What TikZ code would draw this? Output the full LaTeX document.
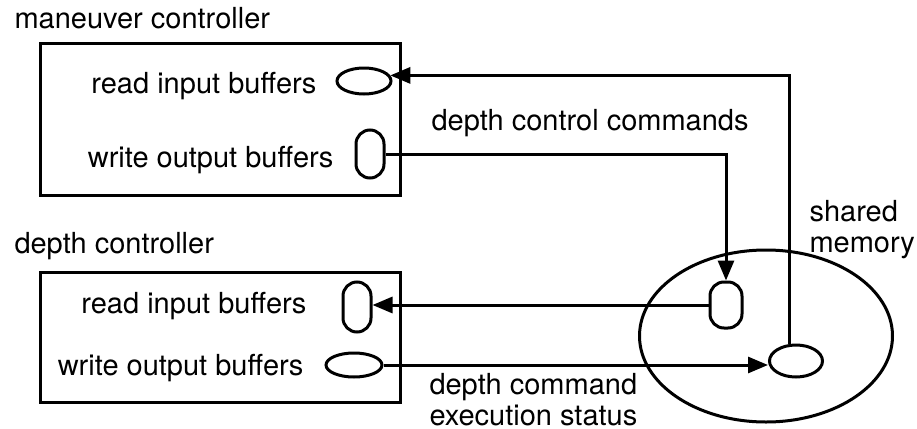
\documentclass[tikz,border=0pt]{standalone}
\usepackage{fontspec}
\setmainfont{TeX Gyre Heros}
\usetikzlibrary{arrows.meta,shapes.geometric}
\tikzset{
  lbl/.style={inner sep=0pt,font=\fontsize{14.5}{15.5}\selectfont},
  buf/.style={draw,ellipse,inner sep=0pt},
  capsule/.style={draw,rectangle,rounded corners=7pt,inner sep=0pt,minimum width=14pt,minimum height=24pt},
  flow/.style={-{Triangle[length=10pt,width=8pt]}}
}
\begin{document}
\begin{tikzpicture}[x=0.5pt,y=-0.5pt,line width=1.5pt]
  \useasboundingbox (0,0) rectangle (917,429);
  % maneuver controller (top box)
  \node[lbl,anchor=base west] (mantitle) at (13,28) {maneuver controller};
  \draw (40,43) rectangle (400,195);
  \node[buf,minimum width=27pt,minimum height=13pt] (mrd) at (364,81) {};
  \node[lbl,anchor=base east] (mrdtext) at (318,93) {read input buffers};
  \node[capsule] (mwr) at (370,154) {};
  \node[lbl,anchor=base east] (mwrtext) at (335,167) {write output buffers};
  % depth controller (bottom box)
  \node[lbl,anchor=base west] (deptitle) at (13,253) {depth controller};
  \draw (40,272) rectangle (400,402);
  \node[capsule,minimum height=25pt] (drd) at (357,307) {};
  \node[lbl,anchor=base east] (drdtext) at (308,313) {read input buffers};
  \node[buf,minimum width=28pt,minimum height=12pt] (dwr) at (354,365) {};
  \node[lbl,anchor=base east] (dwrtext) at (305,375) {write output buffers};
  % shared memory with its two buffers
  \node[buf,minimum width=126.5pt,minimum height=86pt] (shm) at (766,336) {};
  \node[lbl,anchor=north west,align=left] (shmtext) at (808,199) {shared\\memory};
  \node[capsule,minimum width=16pt,minimum height=23pt] (sr) at (726,305) {};
  \node[buf,minimum width=26.5pt,minimum height=16pt] (sw) at (796,361) {};
  % data flows
  \draw[flow] (mwr.east) -| (sr.north);
  \node[lbl,anchor=base west] (cmdtext) at (430,130) {depth control commands};
  \draw[flow] (sw.110) |- (mrd.12);
  \draw[flow] (sr.west) -- (sr.west -| drd.east);
  \draw[flow] (dwr.east) -- (dwr.east -| sw.west);
  \node[lbl,anchor=north west,align=left] (stattext) at (428,372) {depth command\\execution status};
\end{tikzpicture}
\end{document}
